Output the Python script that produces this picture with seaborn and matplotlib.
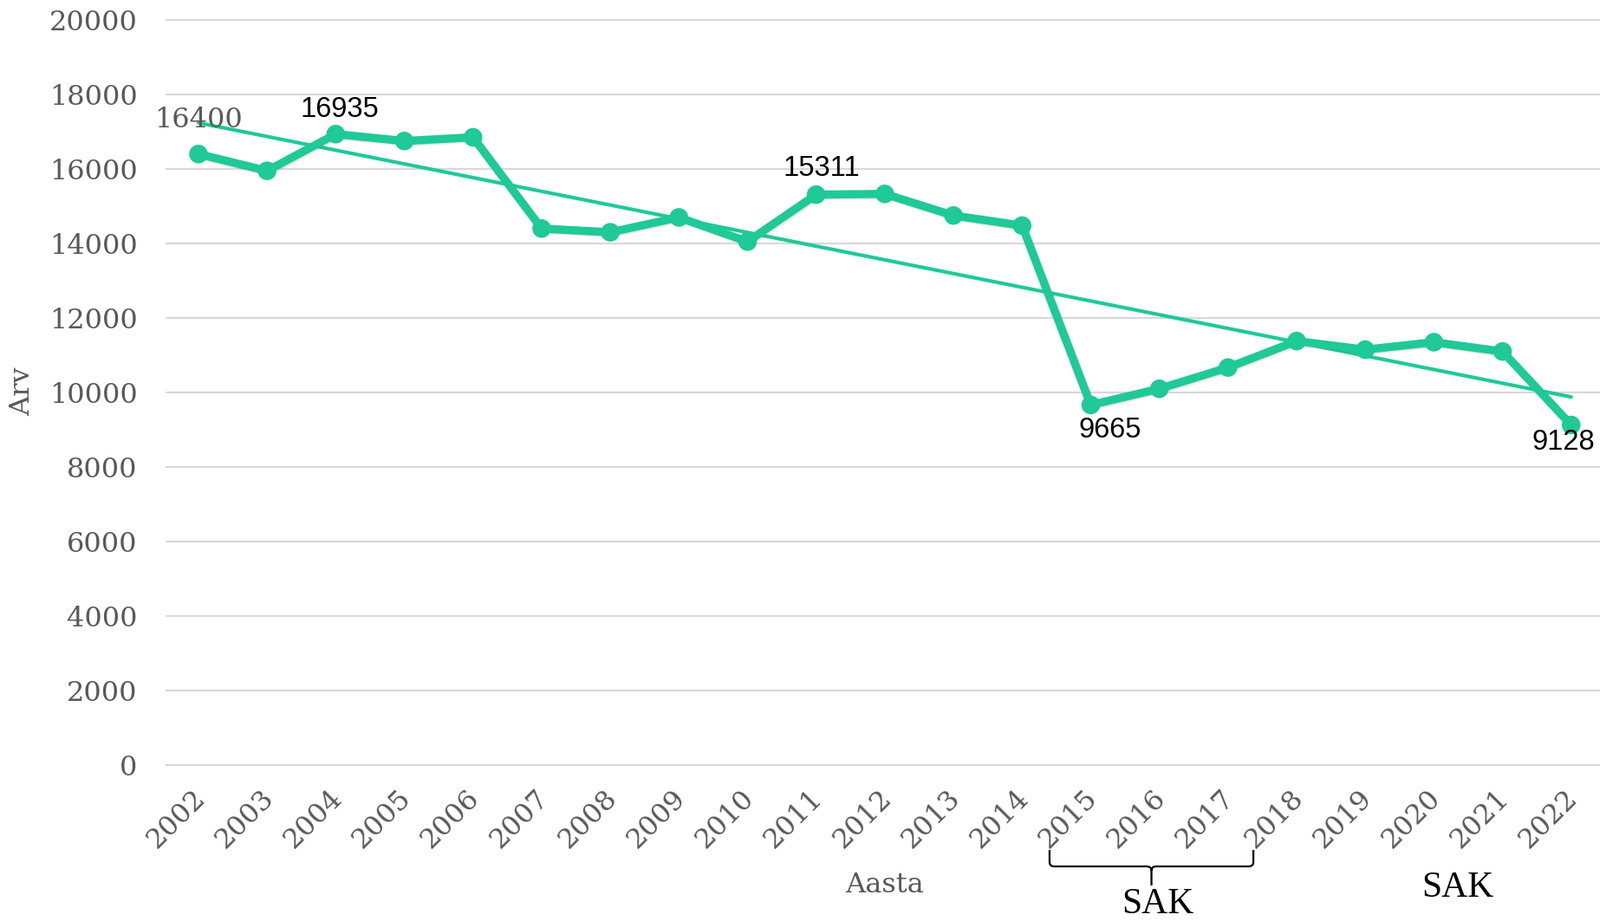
import numpy as np
import pandas as pd
import matplotlib
matplotlib.use("Agg")
import matplotlib.pyplot as plt
import matplotlib.patheffects as pe
import matplotlib.transforms as mtransforms
from matplotlib.path import Path
from matplotlib.patches import PathPatch
import seaborn as sns

# --- données ---
years = list(range(2002, 2023))
values = [16400, 15950, 16935, 16750, 16850, 14400, 14300, 14700, 14050, 15311,
          15330, 14750, 14480, 9665, 10100, 10670, 11380, 11150, 11350, 11100, 9128]
y_ticks = list(range(0, 20001, 2000))

# étiquettes de points : (année, texte, décalage px, police)
point_labels = [
    (2002, "16400", (0, 39), "serif"),
    (2004, "16935", (5, 28), "sans"),
    (2011, "15311", (6, 30), "sans"),
    (2015, "9665", (22, -29), "sans"),
    (2022, "9128", (-9, -20), "sans"),
]

df = pd.DataFrame({"Aasta": years, "Arv": values})

GREEN = "#1FC998"
GREY = "#595959"
SERIF = ["DejaVu Serif"]
SANS = ["Liberation Sans", "DejaVu Sans"]
TIMES = ["Liberation Serif", "DejaVu Serif"]

sns.set_theme(style="white")
plt.rcParams["font.family"] = SERIF

W, H = 1846, 1063
fig = plt.figure(figsize=(W / 100, H / 100), dpi=100)
ax = fig.add_axes([192 / W, 1 - 883 / H, (W - 192) / W, 860 / H])

# gridlines
for yt in y_ticks:
    ax.axhline(yt, color="#d9d9d9", lw=1.6, zorder=0, clip_on=False)

# trendline (régression linéaire)
sns.regplot(data=df, x="Aasta", y="Arv", scatter=False, ci=None, truncate=True,
            color=GREEN, line_kws={"lw": 3.0, "zorder": 2}, ax=ax)

# série principale
sns.lineplot(data=df, x="Aasta", y="Arv", color=GREEN, lw=6.8, marker="o",
             markersize=15.5, markeredgewidth=0, ax=ax, zorder=3,
             path_effects=[pe.SimpleLineShadow(offset=(1.2, -1.2), shadow_color="#7a5a5a", alpha=0.15),
                           pe.Normal()])

for yr, txt, (dx, dy), kind in point_labels:
    v = values[years.index(yr)]
    if kind == "serif":
        fam, col, fs = SERIF, GREY, 23
    else:
        fam, col, fs = SANS, "black", 23.5
    ax.annotate(txt, (yr, v), xytext=(dx, dy), textcoords="offset pixels",
                ha="center", va="center", fontsize=fs, color=col, family=fam,
                zorder=5, annotation_clip=False)

ax.set_xlim(2001.533, 2022.42)
ax.set_ylim(0, 20000)
ax.set_yticks(y_ticks)
ax.set_yticklabels([str(t) for t in y_ticks])
ax.set_xticks(years)
ax.set_xticklabels([str(y) for y in years], rotation=45, ha="right")
ax.tick_params(axis="y", length=0, pad=24, labelsize=23, labelcolor=GREY)
ax.tick_params(axis="x", length=0, pad=16, labelsize=23, labelcolor=GREY)
shift = mtransforms.ScaledTranslation(14 / 100, 0, fig.dpi_scale_trans)
for lab in ax.get_xticklabels():
    lab.set_transform(lab.get_transform() + shift)

for s in ax.spines.values():
    s.set_visible(False)
ax.grid(False)

ax.set_xlabel("Aasta", fontsize=23, color=GREY, va="center", ha="center")
ax.xaxis.set_label_coords((1021 - 192) / 1654, (883 - 1022) / 860)
ax.set_ylabel("Arv", fontsize=23, color=GREY, va="center", ha="center")
ax.yaxis.set_label_coords((26 - 192) / 1654, (883 - 452) / 860)

# accolade sous 2015-2017
x0, x1 = 2014.40, 2017.37
xm = (x0 + x1) / 2
fy = lambda p: 1 - p / H
ytop, ybar, ytip = fy(981), fy(1000), fy(1022)
r = 0.07
rr = 5 / H
verts = [(x0, ytop), (x0, ybar + rr), (x0, ybar), (x0 + r, ybar),
         (xm - r, ybar), (xm, ybar), (xm, ybar - rr), (xm, ytip),
         (xm, ybar - rr), (xm, ybar), (xm + r, ybar),
         (x1 - r, ybar), (x1, ybar), (x1, ybar + rr), (x1, ytop)]
codes = [Path.MOVETO, Path.LINETO, Path.CURVE3, Path.CURVE3,
         Path.LINETO, Path.CURVE3, Path.CURVE3, Path.LINETO,
         Path.MOVETO, Path.CURVE3, Path.CURVE3,
         Path.LINETO, Path.CURVE3, Path.CURVE3, Path.LINETO]
trans = mtransforms.blended_transform_factory(ax.transData, fig.transFigure)
ax.add_patch(PathPatch(Path(verts, codes), transform=trans, fill=False,
                       lw=1.6, color="black", clip_on=False))

fig.text(1336 / W, fy(1044), "SAK", ha="center", va="center", fontsize=30,
         family=TIMES, color="black")
fig.text(1682 / W, fy(1025), "SAK", ha="center", va="center", fontsize=30,
         family=TIMES, color="black")

fig.savefig("out.png", dpi=100)
